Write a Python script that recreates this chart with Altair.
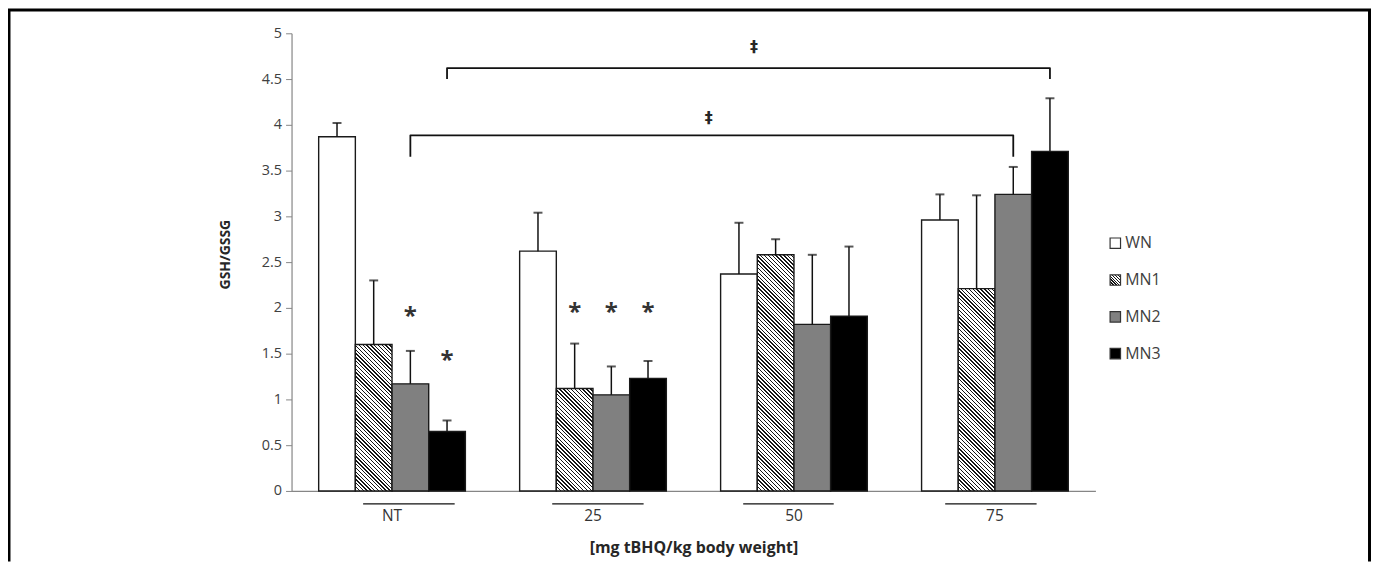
import altair as alt

# ---------------- data ----------------
categories = ["NT", "25", "50", "75"]
series = ["WN", "MN1", "MN2", "MN3"]

wn_mean = [3.87, 2.62, 2.37, 2.96]
mn1_mean = [1.60, 1.12, 2.58, 2.21]
mn2_mean = [1.17, 1.05, 1.82, 3.24]
mn3_mean = [0.65, 1.23, 1.91, 3.71]

wn_sd = [0.15, 0.42, 0.56, 0.28]
mn1_sd = [0.70, 0.49, 0.17, 1.02]
mn2_sd = [0.36, 0.31, 0.76, 0.30]
mn3_sd = [0.12, 0.19, 0.76, 0.58]

y_ticks = [0, 0.5, 1, 1.5, 2, 2.5, 3, 3.5, 4, 4.5, 5]

star_cat = ["NT", "NT", "25", "25", "25"]
star_series = ["MN2", "MN3", "MN1", "MN2", "MN3"]
star_y = [1.97, 1.48, 2.01, 2.01, 2.01]

bracket_id = ["low"] * 4 + ["up"] * 4
bracket_cat = ["NT", "NT", "75", "75", "NT", "NT", "75", "75"]
bracket_series = ["MN2"] * 4 + ["MN3"] * 4
bracket_y = [3.65, 3.885, 3.885, 3.65, 4.50, 4.62, 4.62, 4.50]
bracket_order = [0, 1, 2, 3, 0, 1, 2, 3]

dagger_cat = ["50", "50"]
dagger_y = [4.07, 4.85]

# ---------------- style / layout ----------------
W, H = 808, 460
YMAX = 5
PAD_IN, PAD_OUT = 0.27, 0.135
FONT = "Open Sans"
dagger_band = [0.0, 0.228]
dagger_dx = [-12, 0]
underline_start = [0.303, 0.222, 0.154, 0.161]
underline_end = [0.927, 0.845, 0.771, 0.784]
solid = {"WN": "#ffffff", "MN2": "#808080", "MN3": "#000000"}


def hatch(w, h, period, ink=0.36, color="#161616"):
    c = (w + h) / (w * w + h * h)
    n = int((w + h) / period) + 1
    stops = []
    for i in range(n):
        a, b, e = i / n, (i + ink) / n, (i + 1) / n
        stops += [
            {"offset": round(a, 5), "color": color},
            {"offset": round(b, 5), "color": color},
            {"offset": round(b, 5), "color": "#ffffff"},
            {"offset": round(e, 5), "color": "#ffffff"},
        ]
    return {"gradient": "linear", "x1": 0, "y1": 1,
            "x2": round(w * c, 5), "y2": round(1 - h * c, 5), "stops": stops}


px_per_unit = H / YMAX
bar_w = W / 4 * (1 - PAD_IN) / 4

means = [wn_mean, mn1_mean, mn2_mean, mn3_mean]
sds = [wn_sd, mn1_sd, mn2_sd, mn3_sd]
bar_rows = []
for s, ms, ss in zip(series, means, sds):
    for c, m, sd in zip(categories, ms, ss):
        fill = hatch(bar_w, m * px_per_unit, 3.9) if s == "MN1" else solid[s]
        bar_rows.append({"cat": c, "series": s, "mean": m, "top": round(m + sd, 3), "fill": fill})
bar_data = alt.Data(values=bar_rows)

x_title = "[mg tBHQ/kg body weight]"
y_title = "GSH/GSSG"
x_scale = alt.Scale(domain=categories, paddingInner=PAD_IN, paddingOuter=PAD_OUT)
x_axis = alt.Axis(labelAngle=0, ticks=False, tickSize=0, domainColor="#868686", domainWidth=1.2,
                  labelFont=FONT, labelFontSize=15.5, labelColor="#333333", labelPadding=25,
                  labelBaseline="middle", titleFont=FONT, titleFontSize=16, titleFontWeight="bold",
                  titleColor="#262626", titleY=57, titleBaseline="middle", grid=False)
y_axis = alt.Axis(values=y_ticks, format="~g", domainColor="#868686", domainWidth=1.2,
                  tickColor="#868686", tickSize=6, labelFont=FONT, labelFontSize=14.5,
                  labelColor="#404040", labelPadding=4, titleFont=FONT, titleFontSize=14,
                  titleFontWeight="bold", titleColor="#262626", titleX=-66, titleY=H / 2 - 8,
                  titleAngle=-90, titleBaseline="middle", grid=False)


def X():
    return alt.X("cat:N", sort=categories, scale=x_scale, axis=x_axis, title=x_title)


def XO():
    return alt.XOffset("series:N", sort=series,
                       scale=alt.Scale(domain=series, paddingInner=0, paddingOuter=0))


def Y(field):
    return alt.Y(field, type="quantitative", scale=alt.Scale(domain=[0, YMAX]),
                 axis=y_axis, title=y_title)


bars = alt.Chart(bar_data).mark_bar(stroke="#1a1a1a", strokeWidth=1.4).encode(
    x=X(), xOffset=XO(), y=Y("mean"), fill=alt.Fill("fill:N", scale=None))

stems = alt.Chart(bar_data).mark_rule(color="#111111", strokeWidth=1.5).encode(
    x=X(), xOffset=XO(), y=Y("mean"), y2="top:Q")

caps = alt.Chart(bar_data).mark_tick(color="#111111", size=9, thickness=2).encode(
    x=X(), xOffset=XO(), y=Y("top"))

star_rows = [{"cat": c, "series": s, "y": v} for c, s, v in zip(star_cat, star_series, star_y)]
stars = alt.Chart(alt.Data(values=star_rows)).mark_text(
    text="*", font=FONT, fontSize=24, fontWeight="bold", color="#333333",
    baseline="middle", dy=6).encode(
    x=X(), xOffset=XO(), y=Y("y"))

br_rows = [{"b": b, "cat": c, "series": s, "y": v, "o": o}
           for b, c, s, v, o in zip(bracket_id, bracket_cat, bracket_series, bracket_y, bracket_order)]
brackets = alt.Chart(alt.Data(values=br_rows)).mark_line(
    color="#111111", strokeWidth=1.8, strokeJoin="round").encode(
    x=X(), xOffset=XO(), y=Y("y"), detail="b:N", order="o:Q")

one = alt.Data(values=[{"k": 1}])
daggers = []
for c, bp, dx, v in zip(dagger_cat, dagger_band, dagger_dx, dagger_y):
    daggers.append(alt.Chart(one).mark_text(
        text="\u2021", font="DejaVu Sans", fontSize=16, fontWeight="bold", color="#262626",
        baseline="middle", dx=dx).encode(
        x=alt.XDatum(c, type="nominal", bandPosition=bp, scale=x_scale, axis=x_axis, title=x_title),
        y=alt.YDatum(v, type="quantitative", scale=alt.Scale(domain=[0, YMAX]), axis=y_axis,
                     title=y_title)))

underlines = []
for c, b0, b1 in zip(categories, underline_start, underline_end):
    underlines.append(alt.Chart(one).mark_rule(color="#111111", strokeWidth=1.5).encode(
        x=alt.XDatum(c, type="nominal", bandPosition=b0, scale=x_scale, axis=x_axis, title=x_title),
        x2=alt.X2Datum(c, bandPosition=b1),
        y=alt.value(H + 13)))

main = alt.layer(bars, stems, caps, stars, brackets, *daggers, *underlines)

# legend (hand-built so the hatched swatch matches)
leg_fill = {"WN": "#ffffff", "MN1": hatch(10.5, 10.5, 3.4, ink=0.4), "MN2": "#808080", "MN3": "#000000"}
leg_rows = [{"series": s, "fill": leg_fill[s]} for s in series]
leg_y = alt.Y("series:N", sort=series,
              scale=alt.Scale(type="point", domain=series, range=[211, 322], padding=0), axis=None)
leg_sq = alt.Chart(alt.Data(values=leg_rows)).mark_square(
    size=110, stroke="#333333", strokeWidth=1.2, opacity=1).encode(
    x=alt.value(828), y=leg_y, fill=alt.Fill("fill:N", scale=None))
leg_txt = alt.Chart(alt.Data(values=leg_rows)).mark_text(
    align="left", baseline="middle", font=FONT, fontSize=16, color="#404040").encode(
    x=alt.value(838), y=leg_y, text="series:N")
legend = alt.layer(leg_sq, leg_txt)

# outer frame
frame_l = alt.Chart(one).mark_rule(color="#000000", strokeWidth=3).encode(
    x=alt.value(-284), y=alt.value(-24), y2=alt.value(531))
frame_t = alt.Chart(one).mark_rule(color="#000000", strokeWidth=3).encode(
    x=alt.value(-285), x2=alt.value(1085), y=alt.value(-23.5))
frame_r = alt.Chart(one).mark_rule(color="#000000", strokeWidth=3).encode(
    x=alt.value(1083.5), y=alt.value(-24), y2=alt.value(531))

chart = alt.layer(main, legend, frame_l, frame_t, frame_r).resolve_scale(
    y="independent"
).properties(
    width=W, height=H,
    padding={"left": 285, "top": 24, "right": 277, "bottom": 71},
    autosize=alt.AutoSizeParams(type="none"),
).configure_view(strokeWidth=0)

chart.save("out.html", embed_options={"renderer": "svg", "actions": False})
